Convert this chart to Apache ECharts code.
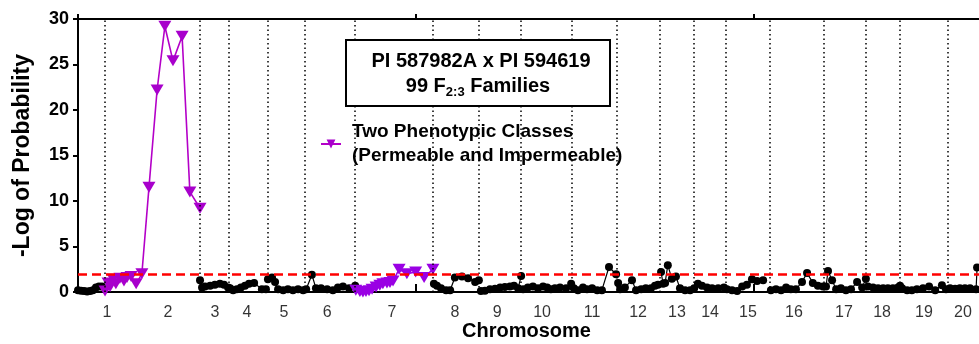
<!DOCTYPE html>
<html>
<head>
<meta charset="utf-8">
<script src="https://cdn.jsdelivr.net/npm/echarts@6/dist/echarts.min.js"></script>
<style>html,body{margin:0;padding:0;background:#fff;overflow:hidden}#c{width:979px;height:344px}</style>
</head>
<body>
<div id="c"></div>
<script>
// ---- data (x in cumulative cM, y = -log10 probability) ----
const chromLabels = ['1','2','3','4','5','6','7','8','9','10','11','12','13','14','15','16','17','18','19','20'];
const chromLabelPos = [86,266,405,500,609,737,929,1115,1240,1373,1521,1657,1772,1870,1982,2118,2266,2379,2503,2618];
const boundaries = [78,359,447,562,672,820,1050,1186,1311,1462,1595,1722,1823,1917,2047,2207,2331,2432,2574];
const threshold = 2;

const twoClassA = [[80,0.1],[89,1.0],[95,0.6],[104,1.4],[112,0.9],[124,1.5],[136,1.2],[145,1.6],[157,1.7],[172,0.9],[189,2.0],[210,11.5],[234,22.2],[257,29.2],[281,25.4],[308,28.1],[331,11.0],[361,9.2]];
const twoClassB = [[822,0.2],[834,0.05],[843,0],[852,0.05],[861,0.15],[870,0.3],[882,0.55],[893,0.75],[902,0.9],[914,1.0],[923,1.05],[932,1.2],[950,2.5],[973,2.0],[999,2.2],[1024,1.6],[1050,2.5]];

const singleMarker = [
  [[0,0.2],[9,0.15],[18,0.1],[27,0.05],[36,0.1],[44,0.2],[53,0.5],[62,0.6],[71,0.6]],
  [[361,1.3],[367,0.5],[376,0.6],[391,0.7],[405,0.8],[420,0.9],[432,0.8],[444,0.5]],
  [[450,0.4],[459,0.2],[470,0.3],[482,0.5],[494,0.7],[506,0.9],[521,1.0],[544,0.3],[556,0.3]],
  [[562,1.4],[574,1.6],[583,1.1],[592,0.3],[607,0.2],[621,0.3],[636,0.2],[651,0.3],[666,0.2]],
  [[675,0.3],[692,1.9],[704,0.4],[719,0.4],[737,0.3],[754,0.2],[769,0.5],[784,0.6],[802,0.4],[820,0.7]],
  [[1053,0.9],[1062,0.7],[1074,0.4],[1089,0.2],[1101,0.2],[1115,1.6],[1136,1.7],[1154,1.5],[1175,1.1],[1186,1.3]],
  [[1192,0.1],[1204,0.15],[1219,0.3],[1234,0.35],[1249,0.5],[1263,0.55],[1278,0.6],[1290,0.7],[1302,0.4],[1311,1.75]],
  [[1317,0.3],[1331,0.5],[1346,0.6],[1361,0.4],[1376,0.6],[1388,0.5],[1399,0.3],[1411,0.4],[1426,0.5],[1444,0.4],[1459,0.9]],
  [[1467,0.4],[1479,0.2],[1494,0.5],[1506,0.3],[1521,0.4],[1536,0.2],[1550,0.2],[1571,2.75],[1592,1.95]],
  [[1598,1.0],[1604,0.3],[1618,0.5],[1639,1.3],[1651,0.2],[1666,0.3],[1680,0.4],[1695,0.4],[1707,0.7],[1716,0.8]],
  [[1725,2.2],[1731,0.9],[1737,1.0],[1745,2.95],[1757,1.45],[1769,1.7],[1781,0.4],[1796,0.2],[1811,0.2]],
  [[1823,0.4],[1834,0.9],[1846,0.7],[1861,0.5],[1876,0.4],[1894,0.4],[1911,0.5]],
  [[1920,0.3],[1935,0.2],[1950,0.1],[1965,0.6],[1979,0.8],[1994,1.4],[2009,1.2],[2027,1.3]],
  [[2050,0.2],[2065,0.3],[2080,0.2],[2095,0.5],[2109,0.3],[2124,0.3],[2142,1.1],[2157,2.1],[2174,1.0],[2189,0.7],[2204,0.6]],
  [[2213,0.6],[2219,2.3],[2231,1.3],[2243,0.3],[2257,0.4],[2272,0.2],[2287,0.3],[2305,1.1],[2320,0.5],[2331,1.45]],
  [[2337,0.6],[2352,0.5],[2367,0.4],[2382,0.4],[2396,0.4],[2411,0.4],[2426,0.5],[2432,0.7]],
  [[2438,0.4],[2453,0.2],[2467,0.2],[2482,0.3],[2500,0.4],[2518,0.6],[2536,0.2],[2556,0.75],[2568,0.3]],
  [[2580,0.4],[2595,0.35],[2609,0.4],[2624,0.4],[2639,0.4],[2657,0.3],[2660,2.7]]
];

const legendName = 'Two Phenotypic Classes\n(Permeable and Impermeable)';
const titleLine1 = 'PI 587982A x PI 594619';
const FONT = '"Liberation Sans", Arial, sans-serif';

// build line data with gaps between chromosome segments
const blackData = [];
singleMarker.forEach(seg => { seg.forEach(p => blackData.push(p)); blackData.push([seg[seg.length-1][0] + 1, null]); });

const chart = echarts.init(document.getElementById('c'), null, {renderer: 'canvas'});
const tri = 'path://M0,0L2,0L1,1.75Z';

chart.setOption({
  animation: false,
  backgroundColor: '#fff',
  grid: {left: 78, top: 19, width: 1014, height: 273, containLabel: false, outerBoundsMode: 'none'},
  legend: {
    data: [legendName],
    left: 316, top: 117, orient: 'vertical',
    backgroundColor: '#fff', padding: [3, 4, 3, 4],
    itemWidth: 20, itemHeight: 11,
    textStyle: {fontFamily: FONT, fontWeight: 'bold', fontSize: 19, color: '#000', lineHeight: 24, padding: [0,0,0,6]}
  },
  xAxis: [
    {type: 'value', position: 'bottom', min: 0, max: 3000, interval: 1000,
     axisLine: {show: true, lineStyle: {color: '#000', width: 2}},
     axisTick: {show: true, inside: true, length: 8, lineStyle: {color: '#000', width: 2}},
     axisLabel: {show: false}, splitLine: {show: false}},
    {type: 'value', position: 'top', min: 0, max: 3000, interval: 1000,
     axisLine: {show: true, onZero: false, lineStyle: {color: '#000', width: 2}},
     axisTick: {show: true, inside: false, length: 5, lineStyle: {color: '#000', width: 2}},
     axisLabel: {show: false}, splitLine: {show: false}}
  ],
  yAxis: {
    type: 'value', min: 0, max: 30, interval: 5,
    name: '-Log of Probability', nameLocation: 'middle', nameGap: 44, nameRotate: 90,
    nameTextStyle: {fontFamily: FONT, fontWeight: 'bold', fontSize: 23, color: '#000'},
    axisLine: {show: true, lineStyle: {color: '#000', width: 2}},
    axisTick: {show: true, length: 5, lineStyle: {color: '#000', width: 2}},
    axisLabel: {fontFamily: FONT, fontWeight: 'bold', fontSize: 18, color: '#000', margin: 9},
    splitLine: {show: false}
  },
  series: [
    {
      type: 'line', name: 'single', data: blackData, connectNulls: false,
      symbol: 'circle', symbolSize: 8, showSymbol: true,
      itemStyle: {color: '#000'}, lineStyle: {color: '#000', width: 1.2},
      z: 3, silent: true,
      markLine: {
        silent: true, symbol: 'none', label: {show: false},
        lineStyle: {color: '#000', type: [1.5, 3], width: 1.5},
        data: boundaries.map(b => ({xAxis: b}))
      }
    },
    {
      type: 'line', name: legendName, data: twoClassA,
      symbol: tri, symbolSize: [13, 11],
      itemStyle: {color: '#a800cc'}, lineStyle: {color: '#b400c8', width: 1.6}, z: 4
    },
    {
      type: 'line', name: legendName, data: twoClassB,
      symbol: tri, symbolSize: [13, 11],
      itemStyle: {color: '#9a00e4'}, lineStyle: {color: '#9a00e4', width: 1.6}, z: 4,
      markLine: {
        silent: true, symbol: 'none', label: {show: false},
        lineStyle: {color: '#ff0000', type: [9, 5], width: 2.5},
        data: [{yAxis: threshold}]
      }
    },
    {
      type: 'scatter', name: 'labels', silent: true, symbolSize: 1,
      itemStyle: {color: 'rgba(0,0,0,0)'},
      data: chromLabels.map((l, i) => ({name: l, value: [chromLabelPos[i], 0]})),
      label: {show: true, position: 'bottom', distance: 12, formatter: p => p.name,
              fontFamily: FONT, fontSize: 16, color: '#000'}
    }
  ],
  graphic: [
    {type: 'rect', z: 100, shape: {x: 346, y: 40, width: 264, height: 66},
     style: {fill: '#fff', stroke: '#000', lineWidth: 2}},
    {type: 'text', z: 101, x: 481, y: 61,
     style: {text: titleLine1, fontFamily: FONT, fontWeight: 'bold', fontSize: 20, fill: '#000',
             align: 'center', verticalAlign: 'middle'}},
    {type: 'text', z: 101, x: 478, y: 86,
     style: {
       text: '{a|99 F}{s|2:3}{a| Families}', align: 'center', verticalAlign: 'middle',
       rich: {
         a: {fontFamily: FONT, fontWeight: 'bold', fontSize: 20, fill: '#000', lineHeight: 24},
         s: {fontFamily: FONT, fontWeight: 'bold', fontSize: 13, fill: '#000', lineHeight: 24, padding: [12,0,0,0]}
       }
     }},
    {type: 'text', z: 101, left: 462, top: 321,
     style: {text: 'Chromosome', fontFamily: FONT, fontWeight: 'bold', fontSize: 20, fill: '#000'}}
  ]
});
</script>
</body>
</html>
